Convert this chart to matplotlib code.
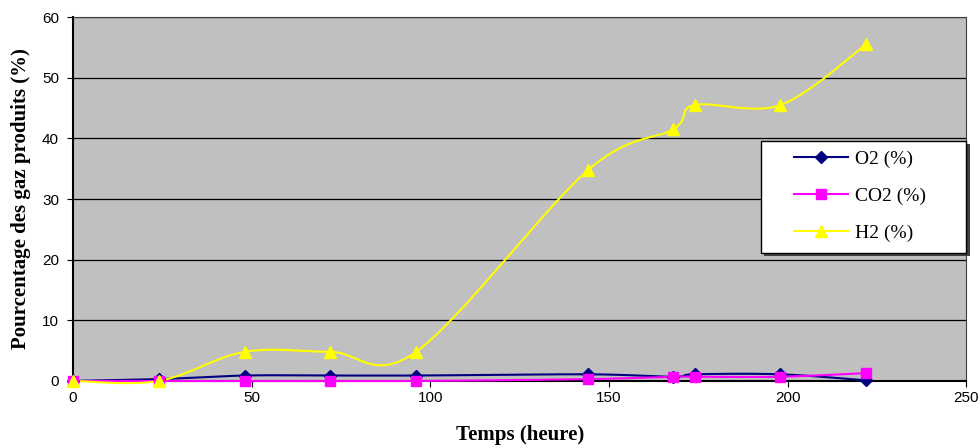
import matplotlib
matplotlib.use('Agg')
import matplotlib.pyplot as plt
from matplotlib.patches import Rectangle
import numpy as np

# sampling times (hours)
temps = [0, 24, 48, 72, 96, 144, 168, 174, 198, 222]

# gas percentages
o2 = [0, 0.3, 0.9, 0.9, 0.9, 1.1, 0.7, 1.1, 1.1, 0.1]
co2 = [0, 0, 0, 0, 0, 0.3, 0.7, 0.7, 0.7, 1.3]
h2 = [0, 0, 4.8, 4.8, 4.8, 34.7, 41.5, 45.5, 45.5, 55.5]


def smooth(xs, ys, n=30):
  # catmull-rom curve through the points, like excel "smoothed line"
  x = np.array(xs, dtype=float)
  y = np.array(ys, dtype=float)
  px = np.concatenate([[x[0]], x, [x[-1]]])
  py = np.concatenate([[y[0]], y, [y[-1]]])
  out_x, out_y = [], []
  t = np.linspace(0, 1, n)
  h00 = 2 * t**3 - 3 * t**2 + 1
  h10 = t**3 - 2 * t**2 + t
  h01 = -2 * t**3 + 3 * t**2
  h11 = t**3 - t**2
  for i in range(1, len(px) - 2):
    for p, out in ((px, out_x), (py, out_y)):
      p0, p1, p2, p3 = p[i - 1], p[i], p[i + 1], p[i + 2]
      m1 = (p2 - p0) / 2
      m2 = (p3 - p1) / 2
      out.extend(h00 * p1 + h10 * m1 + h01 * p2 + h11 * m2)
  return out_x, out_y


fig = plt.figure(figsize=(9.8, 4.48), dpi=100)
ax = fig.add_axes([0.0745, 0.1496, 0.9115, 0.8124])
ax.set_facecolor('#c0c0c0')

series = [
  (o2, '#000080', 'D', 'O2 (%)', 6),
  (co2, '#ff00ff', 's', 'CO2 (%)', 7),
  (h2, '#ffff00', '^', 'H2 (%)', 8),
]
for vals, color, marker, label, ms in series:
  sx, sy = smooth(temps, vals)
  ax.plot(sx, sy, color=color, lw=1.5, zorder=3, clip_on=False)
  ax.plot(temps, vals, linestyle='none', marker=marker, color=color,
          markersize=ms, zorder=4, clip_on=False)
  ax.plot([], [], color=color, marker=marker, markersize=ms, lw=1.5, label=label)

ax.set_xlim(0, 250)
ax.set_ylim(0, 60)
ax.set_xticks(range(0, 251, 50))
ax.set_yticks(range(0, 61, 10))
ax.yaxis.grid(True, color='black', lw=0.9)
ax.set_axisbelow(True)
for s in ax.spines.values():
  s.set_color('#404040')
ax.spines['left'].set_color('black')
ax.spines['bottom'].set_color('black')
ax.spines['left'].set_linewidth(1.5)
ax.spines['bottom'].set_linewidth(1.5)
ax.tick_params(labelsize=11, length=4, direction='out')
ax.tick_params(axis='y', pad=6)
for lab in ax.get_xticklabels() + ax.get_yticklabels():
  lab.set_fontfamily('Liberation Sans')

ax.set_xlabel('Temps (heure)', fontfamily='Liberation Serif', fontweight='bold',
              fontsize=15, labelpad=14)
ax.set_ylabel('Pourcentage des gaz produits (%)', fontfamily='Liberation Serif',
              fontweight='bold', fontsize=15, labelpad=8)

# legend box with a shadow, drawn by hand so the entries sit inside it like excel
ax.add_patch(Rectangle((0.774, 0.344), 0.23, 0.307, transform=ax.transAxes,
                       facecolor='#404040', edgecolor='none', zorder=5, clip_on=False))
ax.add_patch(Rectangle((0.770, 0.352), 0.23, 0.307, transform=ax.transAxes,
                       facecolor='white', edgecolor='black', lw=1, zorder=6, clip_on=False))
leg = ax.legend(loc='center left', bbox_to_anchor=(0.807, 0.508), frameon=False,
                prop={'family': 'Liberation Serif', 'size': 14},
                handlelength=2.8, handletextpad=0.35, borderpad=0,
                labelspacing=1.0, borderaxespad=0)
leg.set_zorder(7)

fig.savefig('out.png', dpi=100)
